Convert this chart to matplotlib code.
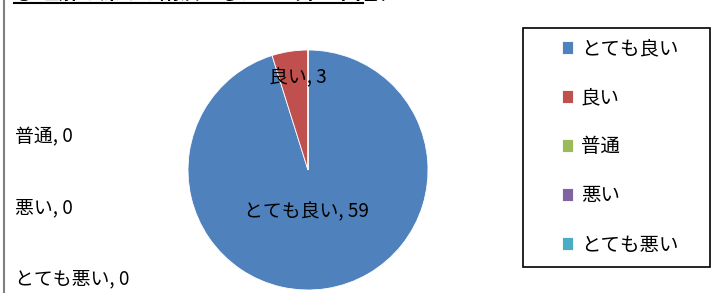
import matplotlib
matplotlib.use("Agg")
import matplotlib.pyplot as plt
from matplotlib.lines import Line2D
from matplotlib.patches import Rectangle

plt.rcParams['font.family'] = ['Noto Sans CJK JP', 'DejaVu Sans']

# データ
categories = ["とても良い", "良い", "普通", "悪い", "とても悪い"]
counts = [59, 3, 0, 0, 0]
colors = ["#4F81BD", "#C0504D", "#9BBB59", "#8064A2", "#4BACC6"]
title = "○ 理解を深める講演でしたか（単一回答）"

W, H = 717, 293
fig = plt.figure(figsize=(W / 100, H / 100), dpi=100)
ax = fig.add_axes([0, 0, 1, 1])

wedges, _ = ax.pie(counts, colors=colors, startangle=90, counterclock=False,
                   center=(308, H - 170), radius=120,
                   wedgeprops=dict(linewidth=0.6, edgecolor="white"))
ax.set_xlim(0, W)
ax.set_ylim(0, H)
ax.set_aspect("equal")
ax.axis("off")

# データラベル（ピクセル位置）
lab_pos = [(306, 212, "center"), (298, 78, "center"),
           (15, 137, "left"), (15, 208, "left"), (15, 279, "left")]
for (x, y, ha), c, n in zip(lab_pos, categories, counts):
    ax.text(x, H - y, "{}, {}".format(c, n), ha=ha, va="center", fontsize=13.6)

# 凡例
box = Rectangle((523, H - 267), 187, 239, fill=False, edgecolor="black", linewidth=1.2)
ax.add_patch(box)
leg = ax.legend(wedges, categories, loc="center", bbox_to_anchor=(620 / W, (H - 147) / H),
                frameon=False, fontsize=14, handlelength=0.6, handleheight=0.6,
                handletextpad=0.4, labelspacing=1.44)

# タイトル（上端で切れている）
ax.text(14, H - 3, title, ha="left", va="bottom", fontsize=14.5, fontweight="bold")
fig.add_artist(Line2D([14 / W, 363 / W], [(H - 3) / H] * 2, color="black", linewidth=1.5))
# 左の縦線
fig.add_artist(Line2D([4 / W, 4 / W], [0, 1], color="#808080", linewidth=1.5))

fig.savefig("out.png", dpi=100)
